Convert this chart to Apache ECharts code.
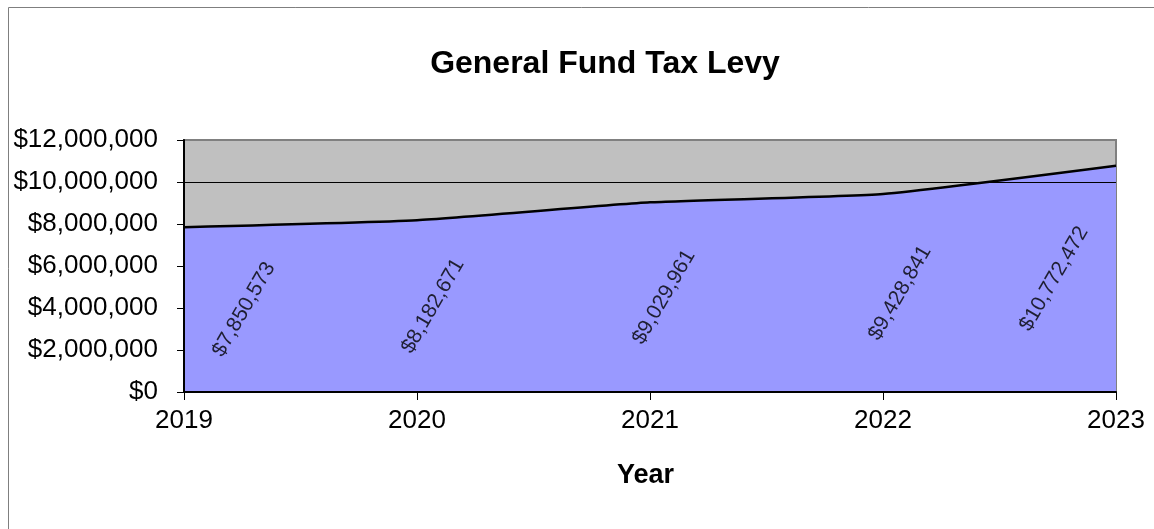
<!DOCTYPE html>
<html>
<head>
<meta charset="utf-8">
<title>General Fund Tax Levy</title>
<script src="https://cdn.jsdelivr.net/npm/echarts@6/dist/echarts.min.js"></script>
<style>
  html, body { margin: 0; padding: 0; background: #ffffff; }
  #chart { width: 1154px; height: 529px; }
</style>
</head>
<body>
<div id="chart"></div>
<script>
// Fiscal years on the horizontal axis
const years = ['2019', '2020', '2021', '2022', '2023'];
// General fund tax levy per year, in dollars
const levy = [7850573, 8182671, 9029961, 9428841, 10772472];
// Value axis range and step
const yMin = 0;
const yMax = 12000000;
const yStep = 2000000;

// Horizontal nudge of each rotated value label, in screen pixels
const labelShift = [60, 16, 14, 17, -62];
const LABEL_ROTATE = 60;

const fmtMoney = v => '$' + Math.round(v).toLocaleString('en-US');
const FONT = '"Liberation Sans", Arial, sans-serif';

// ECharts applies a label offset inside the rotated frame, so turn a
// purely horizontal screen shift into that frame.
function rotatedOffset(dx) {
  const a = LABEL_ROTATE * Math.PI / 180;
  return [dx * Math.cos(a), dx * Math.sin(a)];
}

const chart = echarts.init(document.getElementById('chart'), null, { renderer: 'canvas' });

chart.setOption({
  backgroundColor: '#ffffff',
  animation: false,
  title: {
    text: 'General Fund Tax Levy',
    left: 600,
    textAlign: 'center',
    top: 43,
    textStyle: { fontFamily: FONT, fontSize: 32, fontWeight: 'bold', color: '#000000' }
  },
  graphic: [{
    type: 'rect',
    shape: { x: 8.5, y: 7.5, width: 1200, height: 600 },
    style: { fill: null, stroke: '#7f7f7f', lineWidth: 1 },
    silent: true,
    z: 100
  }],
  grid: {
    left: 184, right: 38, top: 140, bottom: 137,
    show: true,
    backgroundColor: '#c0c0c0',
    borderColor: '#808080',
    borderWidth: 2
  },
  xAxis: {
    type: 'category',
    data: years,
    boundaryGap: false,
    name: 'Year',
    nameLocation: 'middle',
    nameGap: 70,
    nameTextStyle: {
      fontFamily: FONT, fontSize: 27, fontWeight: 'bold', color: '#000000',
      padding: [0, 9, 0, 0]
    },
    axisLine: { show: true, lineStyle: { color: '#000000', width: 2 } },
    axisTick: { show: true, alignWithLabel: true, length: 8, lineStyle: { color: '#000000', width: 1 } },
    axisLabel: { fontFamily: FONT, fontSize: 26, color: '#000000', margin: 16 },
    splitLine: { show: false },
    z: 5
  },
  yAxis: {
    type: 'value',
    min: yMin,
    max: yMax,
    interval: yStep,
    axisLine: { show: true, lineStyle: { color: '#000000', width: 2 } },
    axisTick: { show: true, length: 7, lineStyle: { color: '#000000', width: 1 } },
    axisLabel: { fontFamily: FONT, fontSize: 26, color: '#000000', margin: 26, formatter: fmtMoney },
    splitLine: {
      show: true,
      lineStyle: {
        color: ['rgba(0,0,0,0)', 'rgba(0,0,0,0)', 'rgba(0,0,0,0)', 'rgba(0,0,0,0)', 'rgba(0,0,0,0)', '#000000', 'rgba(0,0,0,0)'],
        width: 1
      }
    },
    z: 5
  },
  series: [
    {
      name: 'Tax Levy',
      type: 'line',
      data: levy,
      smooth: 0.15,
      symbol: 'none',
      lineStyle: { color: '#000000', width: 2.5 },
      areaStyle: { color: '#9999ff', opacity: 1 },
      z: 2
    },
    {
      // Value labels sit halfway up each year's levy
      name: 'Labels',
      type: 'scatter',
      symbolSize: 0,
      silent: true,
      data: levy.map((v, i) => ({
        value: [i, v / 2],
        label: { offset: rotatedOffset(labelShift[i]) }
      })),
      label: {
        show: true,
        position: 'inside',
        rotate: LABEL_ROTATE,
        fontFamily: FONT,
        fontSize: 21,
        color: '#000000',
        formatter: p => fmtMoney(levy[p.dataIndex])
      },
      z: 3
    }
  ]
});
</script>
</body>
</html>
